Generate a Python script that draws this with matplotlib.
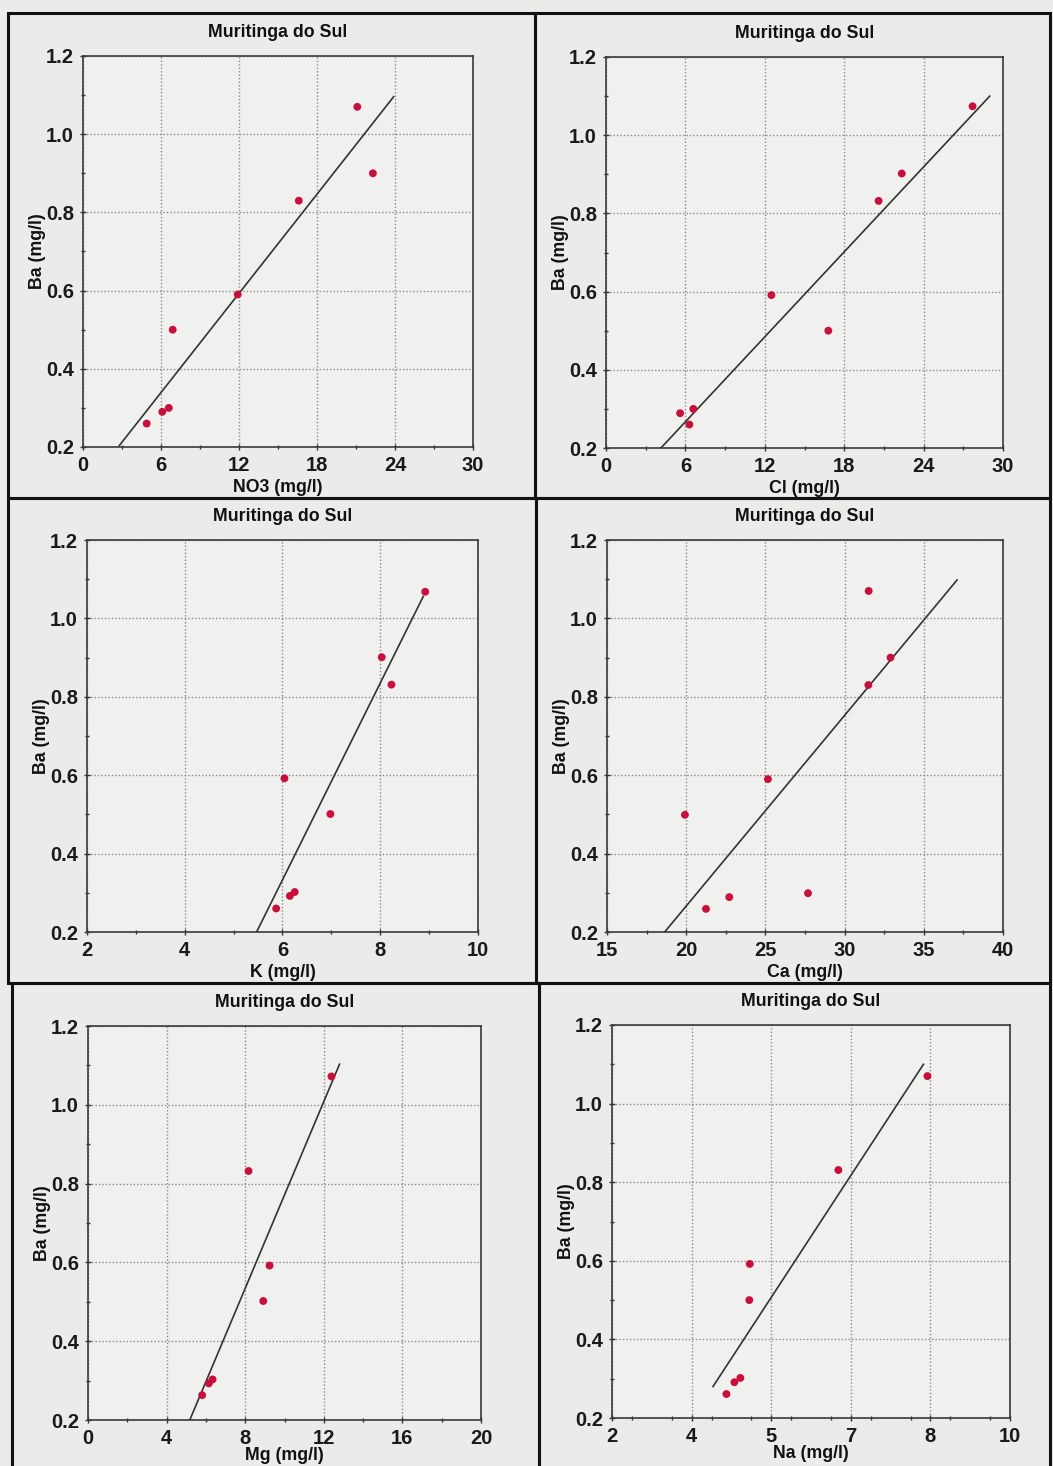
import numpy as np
import matplotlib.pyplot as plt
from matplotlib.patches import Rectangle
from matplotlib.ticker import FixedLocator, MultipleLocator, FormatStrFormatter

plt.rcParams['font.family'] = ['Liberation Sans', 'DejaVu Sans']
plt.rcParams['font.weight'] = 'bold'

titulo = "Muritinga do Sul"

# Ba (mg/l) em cada grafico
ba_no3 = [1.07, 0.90, 0.83, 0.59, 0.50, 0.30, 0.29, 0.26]
no3 = [21.1, 22.3, 16.6, 11.9, 6.9, 6.6, 6.1, 4.9]
fit_no3_x = [2.8, 23.9]
fit_no3_y = [0.204, 1.096]

ba_cl = [1.074, 0.902, 0.832, 0.591, 0.50, 0.30, 0.289, 0.26]
cl = [27.7, 22.35, 20.6, 12.5, 16.8, 6.6, 5.6, 6.3]
fit_cl_x = [4.15, 29.0]
fit_cl_y = [0.20, 1.10]

ba_k = [1.068, 0.901, 0.831, 0.592, 0.501, 0.302, 0.292, 0.26]
k = [8.92, 8.03, 8.23, 6.04, 6.98, 6.25, 6.15, 5.87]
fit_k_x = [5.47, 8.88]
fit_k_y = [0.20, 1.056]

ba_ca = [1.07, 0.90, 0.83, 0.59, 0.499, 0.299, 0.289, 0.259]
ca = [31.52, 32.9, 31.5, 25.16, 19.92, 27.69, 22.72, 21.25]
fit_ca_x = [18.64, 37.1]
fit_ca_y = [0.20, 1.098]

ba_mg = [1.072, 0.832, 0.592, 0.502, 0.303, 0.293, 0.263]
mg = [12.39, 8.17, 9.24, 8.92, 6.34, 6.15, 5.81]
fit_mg_x = [5.18, 12.8]
fit_mg_y = [0.20, 1.103]

ba_na = [1.070, 0.831, 0.592, 0.50, 0.302, 0.291, 0.261]
na = [8.34, 6.55, 4.77, 4.76, 4.58, 4.46, 4.30]
fit_na_x = [4.03, 8.26]
fit_na_y = [0.28, 1.10]

y_ticks = [0.2, 0.4, 0.6, 0.8, 1.0, 1.2]

W, H = 1053, 1466
bg = '#ebebe9'
fig = plt.figure(figsize=(W / 100, H / 100), dpi=100, facecolor=bg)

# moldura de cada grafico (pixels: x0, y0, x1, y1)
frames = [(8, 13, 535, 498), (535, 13, 1050, 498),
          (8, 498, 536, 983), (536, 498, 1050, 983),
          (12, 983, 539, 1470), (539, 983, 1050, 1470)]
for x0, y0, x1, y1 in frames:
    fig.patches.append(Rectangle((x0 / W, 1 - y1 / H), (x1 - x0) / W, (y1 - y0) / H,
                                 transform=fig.transFigure, fill=False,
                                 edgecolor='#111111', linewidth=2.2))


def painel(box, x, y, fx, fy, xlim, xticks, xlabel, fmt='%g', lpad=3):
    x0, y0, x1, y1 = box
    ax = fig.add_axes([x0 / W, 1 - y1 / H, (x1 - x0) / W, (y1 - y0) / H])
    ax.set_facecolor('#f0f0ee')
    ax.set_xlim(*xlim)
    ax.set_ylim(0.2, 1.2)
    ax.xaxis.set_major_locator(FixedLocator(xticks))
    ax.xaxis.set_major_formatter(FormatStrFormatter(fmt))
    step = (xticks[1] - xticks[0]) / 2
    ax.xaxis.set_minor_locator(MultipleLocator(step))
    ax.yaxis.set_major_locator(FixedLocator(y_ticks))
    ax.yaxis.set_major_formatter(FormatStrFormatter('%.1f'))
    ax.yaxis.set_minor_locator(MultipleLocator(0.1))
    ax.grid(True, which='major', color='#8a8a8a', linestyle=(0, (1, 1.5)), linewidth=1.0)
    for s in ax.spines.values():
        s.set_color('#3a3a3a')
        s.set_linewidth(1.2)
    ax.tick_params(which='major', direction='inout', length=5, width=1, color='#333333',
                   labelsize=14.5, pad=4, top=False, right=False)
    ax.tick_params(which='minor', direction='inout', length=3, width=1, color='#333333',
                   top=False, right=False)
    for lab in ax.get_xticklabels() + ax.get_yticklabels():
        lab.set_fontweight('bold')
        lab.set_color('#1a1a1a')
    ax.plot(fx, fy, color='#333333', linewidth=1.2, zorder=3)
    ax.scatter(x, y, s=32, color='#c8103a', edgecolors='none', zorder=4)
    ax.set_title(titulo, fontsize=12.8, fontweight='bold', pad=14, color='#111111')
    ax.set_xlabel(xlabel, fontsize=12.8, fontweight='bold', labelpad=lpad, color='#111111')
    ax.set_ylabel('Ba (mg/l)', fontsize=12.8, fontweight='bold', labelpad=0, color='#111111')
    return ax


painel((83, 56, 473, 447), no3, ba_no3, fit_no3_x, fit_no3_y, (0, 30),
       [0, 6, 12, 18, 24, 30], 'NO3 (mg/l)')
painel((606, 57, 1003, 448), cl, ba_cl, fit_cl_x, fit_cl_y, (0, 30),
       [0, 6, 12, 18, 24, 30], 'Cl (mg/l)')
painel((87, 540, 478, 932), k, ba_k, fit_k_x, fit_k_y, (2, 10),
       [2, 4, 6, 8, 10], 'K (mg/l)')
painel((607, 540, 1003, 932), ca, ba_ca, fit_ca_x, fit_ca_y, (15, 40),
       [15, 20, 25, 30, 35, 40], 'Ca (mg/l)')
painel((88, 1026, 481, 1420), mg, ba_mg, fit_mg_x, fit_mg_y, (0, 20),
       [0, 4, 8, 12, 16, 20], 'Mg (mg/l)', lpad=-1)
painel((612, 1025, 1010, 1418), na, ba_na, fit_na_x, fit_na_y, (2, 10),
       list(np.linspace(2, 10, 6)), 'Na (mg/l)', fmt='%.0f', lpad=-1)

fig.savefig('out.png', dpi=100, facecolor=bg)
